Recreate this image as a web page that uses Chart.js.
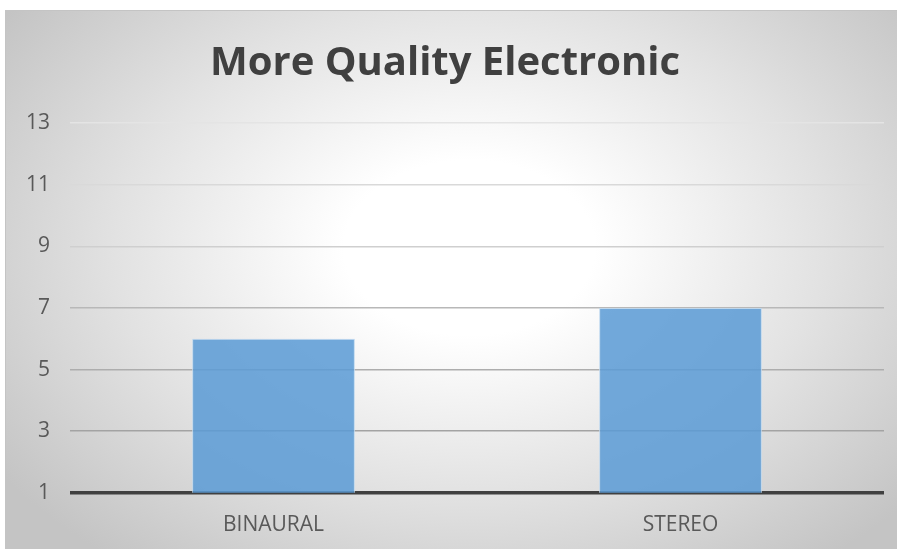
<!DOCTYPE html>
<html>
<head>
<meta charset="utf-8">
<script src="https://cdn.jsdelivr.net/npm/chart.js@4"></script>
<style>
  html, body { margin: 0; padding: 0; background: #ffffff; }
  #frame {
    position: absolute;
    left: 5px; top: 10px;
    width: 892px; height: 539px;
    box-sizing: border-box;
    border-top: 1px solid #c4c4c4;
    border-left: 1px solid #c4c4c4;
    background: radial-gradient(ellipse 64% 74% at 52% 44%, #ffffff 0%, #ffffff 22%, #e2e2e2 62%, #c4c4c4 100%);
  }
  #frame canvas { display: block; }
</style>
</head>
<body>
<div id="frame"><canvas id="chart" width="891" height="538"></canvas></div>
<script>
// Categories and values
const categories = ["BINAURAL", "STEREO"];
const seriesValues = [6, 7];
const yTicks = [1, 3, 5, 7, 9, 11, 13];
const chartTitle = "More Quality Electronic";

// Gridlines shade a little darker toward the bottom of the plot
const gridShades = { 3: "#a3a3a3", 5: "#adadad", 7: "#b8b8b8", 9: "#cfcfcf", 11: "#d9d9d9", 13: "#e4e4e4" };

new Chart(document.getElementById("chart"), {
  type: "bar",
  data: {
    labels: categories,
    datasets: [{
      data: seriesValues,
      backgroundColor: "rgba(91,155,213,0.86)",
      borderColor: "rgba(189,215,238,0.9)",
      borderWidth: 1,
      categoryPercentage: 0.4,
      barPercentage: 1.0
    }]
  },
  options: {
    responsive: false,
    animation: false,
    layout: { padding: { left: 0, right: 13, top: 0, bottom: -1 } },
    plugins: {
      legend: { display: false },
      tooltip: { enabled: false },
      title: {
        display: true,
        text: chartTitle,
        color: "#404040",
        font: { family: "Open Sans", size: 40, weight: "bold" },
        padding: { top: 29, bottom: 35 }
      }
    },
    scales: {
      x: {
        grid: { display: false },
        border: { display: false },
        ticks: {
          color: "#595959",
          font: { family: "Open Sans", size: 21 },
          padding: 12
        }
      },
      y: {
        min: yTicks[0],
        max: yTicks[yTicks.length - 1],
        afterBuildTicks: (axis) => { axis.ticks = yTicks.map(v => ({ value: v })); },
        border: { display: false },
        grid: {
          drawTicks: false,
          color: (ctx) => ctx.tick && ctx.tick.value === 1 ? "#404040" : (gridShades[ctx.tick ? ctx.tick.value : 13] || "#d9d9d9"),
          lineWidth: (ctx) => ctx.tick && ctx.tick.value === 1 ? 3.5 : 1.5
        },
        ticks: {
          color: "#595959",
          font: { family: "Open Sans", size: 21 },
          padding: 20
        }
      }
    }
  }
});
</script>
</body>
</html>
